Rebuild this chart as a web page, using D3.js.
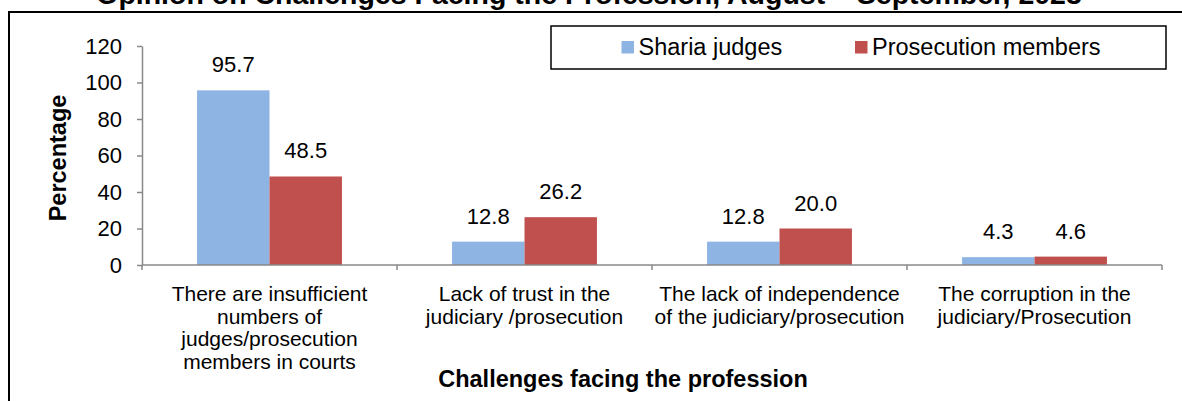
<!DOCTYPE html>
<html>
<head>
<meta charset="utf-8">
<script src="https://cdn.jsdelivr.net/npm/d3@7"></script>
<style>
  body { margin: 0; background: #fff; }
  svg { display: block; font-family: Arial, "Liberation Sans", sans-serif; }
</style>
</head>
<body>
<div id="chart"></div>
<script>
// data
var categories = [
  "There are insufficient\nnumbers of\njudges/prosecution\nmembers in courts",
  "Lack of trust in the\njudiciary /prosecution",
  "The lack of independence\nof the judiciary/prosecution",
  "The corruption in the\njudiciary/Prosecution"
];
var seriesNames = ["Sharia judges", "Prosecution members"];
var shariaJudges = [95.7, 12.8, 12.8, 4.3];
var prosecutionMembers = [48.5, 26.2, 20.0, 4.6];
var yTicks = [0, 20, 40, 60, 80, 100, 120];
var colors = ["#8EB4E3", "#C0504D"];

var width = 1182, height = 401;

var svg = d3.select("#chart")
  .append("svg")
  .attr("width", width)
  .attr("height", height);

// outer frame (right and bottom edges fall outside the picture)
svg.append("rect")
  .attr("x", 9).attr("y", 12)
  .attr("width", 1190).attr("height", 400)
  .attr("fill", "none")
  .attr("stroke", "#000")
  .attr("stroke-width", 2);

// title, mostly cut off at the top like in the original
svg.append("text")
  .attr("x", 589).attr("y", 4)
  .attr("text-anchor", "middle")
  .style("font-size", "28.5px")
  .style("font-weight", "bold")
  .text("Opinion on Challenges Facing the Profession, August \u2013 September, 2023");

// scales
var x = d3.scaleBand()
  .domain(categories)
  .range([142, 1162])
  .padding(0);

var xs = d3.scaleBand()
  .domain(seriesNames)
  .range([0, x.bandwidth()])
  .paddingInner(0)
  .paddingOuter(0.76);

var y = d3.scaleLinear()
  .domain([0, 120])
  .range([265, 46]);

// build rows for the bars
var rows = [];
categories.forEach(function(c, i) {
  rows.push({cat: c, s: seriesNames[0], v: shariaJudges[i]});
  rows.push({cat: c, s: seriesNames[1], v: prosecutionMembers[i]});
});
var color = d3.scaleOrdinal().domain(seriesNames).range(colors);

// bars
svg.selectAll(".bar")
  .data(rows)
  .join("rect")
  .attr("class", "bar")
  .attr("x", function(d) { return x(d.cat) + xs(d.s); })
  .attr("y", function(d) { return y(d.v); })
  .attr("width", xs.bandwidth())
  .attr("height", function(d) { return y(0) - y(d.v); })
  .attr("fill", function(d) { return color(d.s); });

// value labels
svg.selectAll(".val")
  .data(rows)
  .join("text")
  .attr("class", "val")
  .attr("x", function(d) { return x(d.cat) + xs(d.s) + xs.bandwidth() / 2; })
  .attr("y", function(d) { return y(d.v) - 18; })
  .attr("text-anchor", "middle")
  .style("font-size", "22px")
  .attr("fill", "#000")
  .text(function(d) { return d3.format(".1f")(d.v); });

// y axis
var yAxis = svg.append("g")
  .attr("transform", "translate(142,0)")
  .call(d3.axisLeft(y).tickValues(yTicks).tickSize(5).tickSizeOuter(0).tickPadding(15));
yAxis.select(".domain").attr("stroke", "#888").attr("stroke-width", 1.5);
yAxis.selectAll(".tick line").attr("stroke", "#888").attr("stroke-width", 1.5);
yAxis.selectAll(".tick text")
  .attr("fill", "#000")
  .style("font-size", "22px")
  .style("font-family", "Arial, 'Liberation Sans', sans-serif");

// x axis: baseline plus ticks on the category borders
var xAxis = svg.append("g");
xAxis.append("line")
  .attr("x1", x.range()[0]).attr("x2", x.range()[1])
  .attr("y1", y(0)).attr("y2", y(0))
  .attr("stroke", "#888").attr("stroke-width", 1.5);
var borders = categories.map(function(c) { return x(c); }).concat([x.range()[1]]);
xAxis.selectAll(".xt")
  .data(borders)
  .join("line")
  .attr("x1", function(d) { return d; }).attr("x2", function(d) { return d; })
  .attr("y1", y(0)).attr("y2", y(0) + 5)
  .attr("stroke", "#888").attr("stroke-width", 1.5);

// category labels, several lines each
var catText = svg.selectAll(".cat")
  .data(categories)
  .join("text")
  .attr("class", "cat")
  .attr("text-anchor", "middle")
  .style("font-size", "21px");
catText.each(function(c) {
  var t = d3.select(this);
  c.split("\n").forEach(function(line, i) {
    t.append("tspan")
      .attr("x", x(c) + x.bandwidth() / 2)
      .attr("y", 301 + i * 22.7)
      .text(line);
  });
});

// axis titles
svg.append("text")
  .attr("transform", "translate(66,158) rotate(-90)")
  .attr("text-anchor", "middle")
  .style("font-size", "23.5px")
  .style("font-weight", "bold")
  .text("Percentage");

svg.append("text")
  .attr("x", 623).attr("y", 387)
  .attr("text-anchor", "middle")
  .style("font-size", "23.5px")
  .style("font-weight", "bold")
  .text("Challenges facing the profession");

// legend
var legend = svg.append("g");
legend.append("rect")
  .attr("x", 551).attr("y", 26)
  .attr("width", 615).attr("height", 43)
  .attr("fill", "#fff")
  .attr("stroke", "#000")
  .attr("stroke-width", 1.5);
var legendX = [621.5, 855];
var li = legend.selectAll(".li")
  .data(seriesNames)
  .join("g")
  .attr("class", "li")
  .attr("transform", function(d, i) { return "translate(" + legendX[i] + ",0)"; });
li.append("rect")
  .attr("x", 0).attr("y", 41)
  .attr("width", 12.5).attr("height", 12.5)
  .attr("fill", function(d) { return color(d); });
li.append("text")
  .attr("x", 17).attr("y", 55)
  .style("font-size", "23.5px")
  .text(function(d) { return d; });
</script>
</body>
</html>
